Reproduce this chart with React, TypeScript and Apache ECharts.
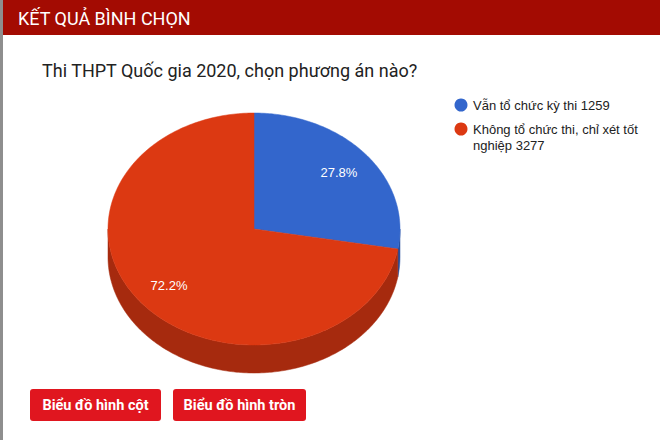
import { useEffect, useRef } from 'react';
import * as echarts from 'echarts';

// poll results
const options = ['Vẫn tổ chức kỳ thi', 'Không tổ chức thi, chỉ xét tốt nghiệp'];
const votes = [1259, 3277];
const topColors = ['#3366cc', '#dc3912'];
const sideColors = ['#274f9e', '#a62a0e'];
const buttonLabels = ['Biểu đồ hình cột', 'Biểu đồ hình tròn'];

const HEADER = 'KẾT QUẢ BÌNH CHỌN';
const QUESTION = 'Thi THPT Quốc gia 2020, chọn phương án nào?';

// 3d pie geometry
const CX = 254;
const CY = 229;
const RX = 146;
const RY = 116;
const DEPTH = 28;

const total = votes.reduce((a, b) => a + b, 0);

function pt(deg: number, dy = 0): number[] {
  const r = (deg * Math.PI) / 180;
  return [CX + RX * Math.sin(r), CY - RY * Math.cos(r) + dy];
}

function arc(from: number, to: number, dy = 0): number[][] {
  const pts: number[][] = [];
  const step = from < to ? 1 : -1;
  for (let d = from; step > 0 ? d < to : d > to; d += step) pts.push(pt(d, dy));
  pts.push(pt(to, dy));
  return pts;
}

// greedy word wrap, like the legend of the original
function wrap(text: string, maxChars: number): string {
  const lines: string[] = [];
  let cur = '';
  text.split(' ').forEach((w) => {
    const next = cur ? cur + ' ' + w : w;
    if (next.length > maxChars && cur) {
      lines.push(cur);
      cur = w;
    } else {
      cur = next;
    }
  });
  if (cur) lines.push(cur);
  return lines.join('\n');
}

export default function App() {
  const ref = useRef<HTMLDivElement>(null);

  useEffect(() => {
    document.body.style.margin = '0';
    if (!ref.current) return;
    const chart = echarts.init(ref.current, undefined, { renderer: 'svg' });

    const renderItem = (params: any, api: any) => {
      const i = params.dataIndex;
      const v = api.value(0);
      const before = votes.slice(0, i).reduce((a, b) => a + b, 0);
      const s = (before / total) * 360;
      const e = ((before + v) / total) * 360;
      const children: any[] = [];

      // visible side wall (lower half of the ellipse)
      const a = Math.max(s, 90);
      const b = Math.min(e, 270);
      if (a < b) {
        children.push({
          type: 'polygon',
          shape: { points: [...arc(a, b), ...arc(b, a, DEPTH)] },
          style: { fill: sideColors[i], stroke: sideColors[i], lineWidth: 0.5 },
        });
      }

      children.push({
        type: 'polygon',
        shape: { points: [[CX, CY], ...arc(s, e)] },
        style: { fill: topColors[i], stroke: topColors[i], lineWidth: 0.5 },
      });

      const m = ((s + e) / 2) * (Math.PI / 180);
      children.push({
        type: 'text',
        x: CX + 0.76 * RX * Math.sin(m),
        y: CY - 0.76 * RY * Math.cos(m),
        style: {
          text: ((v / total) * 100).toFixed(1) + '%',
          fill: '#ffffff',
          font: '13px "Liberation Sans", Arial, sans-serif',
          align: 'center',
          verticalAlign: 'middle',
          textAlign: 'center',
          textVerticalAlign: 'middle',
        },
      });

      return { type: 'group', children };
    };

    const legendItems: any[] = [];
    let ly = 105;
    options.forEach((name, i) => {
      const txt = wrap(`${name} ${votes[i]}`, 30);
      legendItems.push({
        type: 'circle',
        shape: { cx: 461, cy: ly, r: 6.5 },
        style: { fill: topColors[i] },
      });
      legendItems.push({
        type: 'text',
        x: 473,
        y: ly - 8,
        style: {
          text: txt,
          lineHeight: 16,
          fill: '#222222',
          font: '13px "Liberation Sans", Arial, sans-serif',
          verticalAlign: 'top',
          textVerticalAlign: 'top',
        },
      });
      ly += 24 + (txt.split('\n').length - 1) * 16;
    });

    const buttons: any[] = [];
    const btnX = [30, 173];
    const btnW = [131, 133];
    buttonLabels.forEach((label, i) => {
      buttons.push({
        type: 'rect',
        shape: { x: btnX[i], y: 389, width: btnW[i], height: 32, r: 3 },
        style: { fill: '#e0161f' },
      });
      buttons.push({
        type: 'text',
        x: btnX[i] + btnW[i] / 2,
        y: 405,
        style: {
          text: label,
          fill: '#ffffff',
          font: 'bold 14.5px Roboto, sans-serif',
          align: 'center',
          verticalAlign: 'middle',
          textAlign: 'center',
          textVerticalAlign: 'middle',
        },
      });
    });

    chart.setOption({
      animation: false,
      backgroundColor: '#ffffff',
      title: {
        text: QUESTION,
        left: 42,
        top: 61,
        padding: 0,
        textStyle: { color: '#222222', fontSize: 18, fontWeight: 'normal', fontFamily: 'Roboto' },
      },
      graphic: [
        { type: 'rect', shape: { x: 0, y: 0, width: 3, height: 440 }, style: { fill: '#8e8e8e' } },
        { type: 'rect', shape: { x: 3, y: 0, width: 657, height: 35 }, style: { fill: '#a30b02' } },
        {
          type: 'text',
          x: 18,
          y: 18,
          style: {
            text: HEADER,
            fill: '#ffffff',
            font: '18px Roboto, sans-serif',
            verticalAlign: 'middle',
            textVerticalAlign: 'middle',
          },
        },
        ...legendItems,
        ...buttons,
      ],
      series: [
        {
          type: 'custom',
          coordinateSystem: 'none',
          renderItem,
          data: votes.map((v) => [v]),
        },
      ],
    });

    return () => chart.dispose();
  }, []);

  return <div ref={ref} style={{ width: 660, height: 440 }} />;
}
